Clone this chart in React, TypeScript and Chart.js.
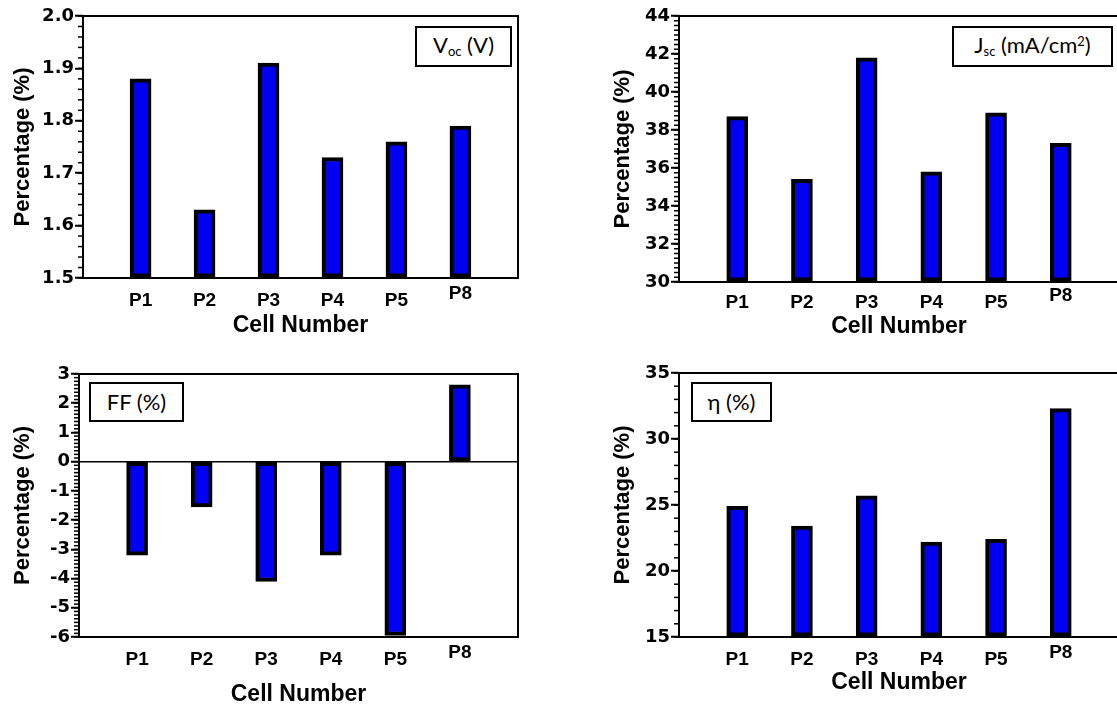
import React, { useEffect, useRef } from 'react';
import { Chart, registerables } from 'chart.js';

Chart.register(...registerables);

// ---------------- data ----------------
const categories = ['P1', 'P2', 'P3', 'P4', 'P5', 'P8'];
const vocValues = [1.88, 1.63, 1.91, 1.73, 1.76, 1.79];
const jscValues = [38.7, 35.4, 41.8, 35.8, 38.9, 37.3];
const ffValues = [-3.2, -1.55, -4.1, -3.2, -5.95, 2.63];
const etaValues = [24.9, 23.4, 25.7, 22.2, 22.4, 32.3];

// y-axis ranges: [min, max, major step, minor step, decimals]
const vocAxis = [1.5, 2.0, 0.1, 0.02, 1];
const jscAxis = [30, 44, 2, 0.25, 0];
const ffAxis = [-6, 3, 1, 0.125, 0];
const etaAxis = [15, 35, 5, 1, 0];

const xTitle = 'Cell Number';
const yTitle = 'Percentage (%)';
const raisedLabel = 'P8';

// ---------------- styles / layout ----------------
const TICK_FONT = "'DejaVu Sans', Verdana, sans-serif";
const TITLE_FONT = "'Liberation Sans', Arial, sans-serif";
const BAR_BLUE = 'rgb(0, 0, 245)';

type PanelCfg = {
  values: number[];
  axis: number[];
  canvas: { x: number; y: number; w: number; h: number };
  plot: { l: number; t: number; r: number; b: number };
  xTickPad: number;
  xTitlePadBottom: number;
  yTitlePadTop: number;
  box: { x: number; y: number; w: number; h: number };
  label: React.ReactNode;
};

const sub = (t: string) => (
  <span style={{ fontSize: 13, verticalAlign: '-0.25em' }}>{t}</span>
);
const sup = (t: string) => (
  <span style={{ fontSize: 13, verticalAlign: '0.55em' }}>{t}</span>
);

const panels: PanelCfg[] = [
  {
    values: vocValues,
    axis: vocAxis,
    canvas: { x: 0, y: 0, w: 558, h: 345 },
    plot: { l: 83, t: 16, r: 518, b: 278 },
    xTickPad: 15.5,
    xTitlePadBottom: 5.8,
    yTitlePadTop: 9.3,
    box: { x: 415, y: 26, w: 97, h: 41 },
    label: (
      <>
        V{sub('oc')} (V)
      </>
    ),
  },
  {
    values: jscValues,
    axis: jscAxis,
    canvas: { x: 558, y: 0, w: 570, h: 345 },
    plot: { l: 679, t: 16, r: 1119, b: 282 },
    xTickPad: 14,
    xTitlePadBottom: 4.8,
    yTitlePadTop: 51.8,
    box: { x: 952, y: 26, w: 161, h: 41 },
    label: (
      <>
        J{sub('sc')} (mA/cm{sup('2')})
      </>
    ),
  },
  {
    values: ffValues,
    axis: ffAxis,
    canvas: { x: 0, y: 345, w: 558, h: 364 },
    plot: { l: 79, t: 374, r: 518, b: 637 },
    xTickPad: 15.5,
    xTitlePadBottom: 0.8,
    yTitlePadTop: 9.3,
    box: { x: 89, y: 382, w: 95, h: 40 },
    label: <>FF (%)</>,
  },
  {
    values: etaValues,
    axis: etaAxis,
    canvas: { x: 558, y: 345, w: 570, h: 364 },
    plot: { l: 679, t: 373, r: 1119, b: 637 },
    xTickPad: 15.3,
    xTitlePadBottom: 12.8,
    yTitlePadTop: 51.8,
    box: { x: 691, y: 382, w: 81, h: 40 },
    label: <>η (%)</>,
  },
];

// minor ticks + frame drawn through the chart's own scales
const framePlugin = {
  id: 'frame',
  afterDatasetsDraw(chart: any, _args: any, opts: any) {
    const { ctx, chartArea: a } = chart;
    const y = chart.scales.y;
    ctx.save();
    ctx.strokeStyle = '#000';
    ctx.lineWidth = 1.5;
    const n = Math.round((y.max - y.min) / opts.minor);
    for (let i = 0; i <= n; i++) {
      const py = y.getPixelForValue(y.min + i * opts.minor);
      ctx.beginPath();
      ctx.moveTo(a.left - opts.minorLen, py);
      ctx.lineTo(a.left, py);
      ctx.stroke();
    }
    ctx.lineWidth = 2;
    ctx.strokeRect(a.left, a.top, a.right - a.left, a.bottom - a.top);
    ctx.restore();
  },
};

function Panel({ cfg }: { cfg: PanelCfg }) {
  const ref = useRef<HTMLCanvasElement>(null);
  useEffect(() => {
    const [min, max, step, minor, dec] = cfg.axis;
    const hasZero = min < 0 && max > 0;
    const c = cfg.canvas;
    const p = cfg.plot;
    const chart = new Chart(ref.current as HTMLCanvasElement, {
      type: 'bar',
      data: {
        datasets: [
          {
            data: cfg.values.map((v, i) => ({ x: i, y: v })) as any,
            backgroundColor: BAR_BLUE,
            borderColor: '#000',
            borderWidth: 4,
            borderSkipped: false,
            barThickness: 21,
            base: hasZero ? 0 : min,
          } as any,
        ],
      },
      plugins: [framePlugin],
      options: {
        animation: false,
        responsive: false,
        devicePixelRatio: 1,
        layout: {
          padding: { top: p.t - c.y, right: c.x + c.w - p.r, left: 0, bottom: 0 },
        },
        plugins: {
          legend: { display: false },
          tooltip: { enabled: false },
          frame: { minor, minorLen: 5 },
        } as any,
        scales: {
          x: {
            type: 'linear',
            offset: false,
            min: -0.9,
            max: 5.9,
            afterBuildTicks: (s: any) => {
              s.ticks = categories.map((_, i) => ({ value: i }));
            },
            afterFit: (s: any) => {
              s.height = c.y + c.h - p.b;
            },
            grid: { display: false, drawTicks: false, offset: false },
            border: { display: false },
            ticks: {
              autoSkip: false,
              maxRotation: 0,
              crossAlign: 'center',
              padding: cfg.xTickPad,
              color: '#000',
              font: { family: TITLE_FONT, size: 19, weight: 'bold', lineHeight: 0.75 },
              callback: (v: any) => {
                const lbl = categories[Math.round(Number(v))];
                return lbl === raisedLabel ? [lbl, ''] : lbl;
              },
            },
            title: {
              display: true,
              text: xTitle,
              color: '#000',
              font: { family: TITLE_FONT, size: 23, weight: 'bold' },
              padding: { top: 0, bottom: cfg.xTitlePadBottom },
            },
          },
          y: {
            type: 'linear',
            min,
            max,
            afterFit: (s: any) => {
              s.width = p.l - c.x;
            },
            grid: {
              drawOnChartArea: hasZero,
              color: (ctx: any) =>
                ctx.tick && ctx.tick.value === 0 ? '#000' : 'rgba(0,0,0,0)',
              lineWidth: 1.5,
              tickColor: '#000',
              tickLength: 8,
              tickWidth: 2,
            },
            border: { display: false },
            ticks: {
              stepSize: step,
              padding: 1,
              color: '#000',
              font: { family: TICK_FONT, size: 18, weight: 'bold' },
              callback: (v: any) => Number(v).toFixed(dec),
            },
            title: {
              display: true,
              text: yTitle,
              color: '#000',
              font: { family: TITLE_FONT, size: 22, weight: 'bold' },
              padding: { top: cfg.yTitlePadTop, bottom: 0 },
            },
          },
        },
      } as any,
    });
    return () => chart.destroy();
  }, [cfg]);

  return (
    <>
      <canvas
        ref={ref}
        width={cfg.canvas.w}
        height={cfg.canvas.h}
        style={{
          position: 'absolute',
          left: cfg.canvas.x,
          top: cfg.canvas.y,
          width: cfg.canvas.w,
          height: cfg.canvas.h,
        }}
      />
      <div
        style={{
          position: 'absolute',
          left: cfg.box.x,
          top: cfg.box.y,
          width: cfg.box.w,
          height: cfg.box.h,
          boxSizing: 'border-box',
          border: '2px solid #000',
          background: '#fff',
          display: 'flex',
          alignItems: 'center',
          justifyContent: 'center',
          fontFamily: "Lato, 'Open Sans', sans-serif",
          fontSize: 22,
          color: '#000',
          whiteSpace: 'nowrap',
          lineHeight: 1,
        }}
      >
        <span>{cfg.label}</span>
      </div>
    </>
  );
}

export default function App() {
  return (
    <div
      style={{
        position: 'fixed',
        left: 0,
        top: 0,
        width: 1117,
        height: 709,
        overflow: 'hidden',
        background: '#fff',
      }}
    >
      {panels.map((cfg, i) => (
        <Panel key={i} cfg={cfg} />
      ))}
    </div>
  );
}
